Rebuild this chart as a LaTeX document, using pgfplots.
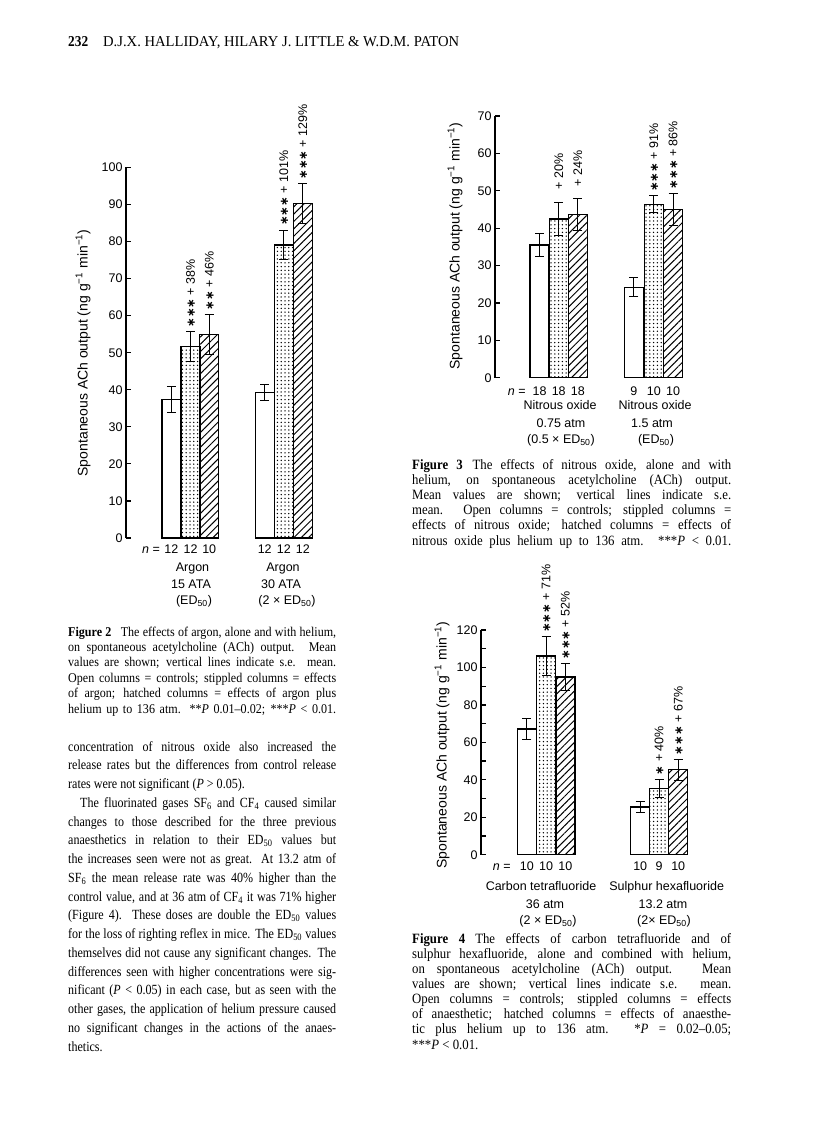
\documentclass[border=0pt]{standalone}
\usepackage{fontspec}
\usepackage{graphicx}
\setmainfont{Liberation Serif}
\newfontfamily\hv{Liberation Sans}
\newfontfamily\dv{DejaVu Sans}
\newfontfamily\bodyfont{Liberation Serif}[FakeStretch=0.86]
\newfontfamily\capfont{Liberation Serif}[FakeStretch=0.9]
\usepackage{pgfplots}
\pgfplotsset{compat=1.18}
\usetikzlibrary{patterns.meta}

% one justified line / one ragged line
\newcommand\jl[1]{\makebox[\linewidth][s]{#1}\par}
\newcommand\lft[1]{\makebox[\linewidth][l]{#1}\par}
\newcommand\st{{\dv\bfseries\fontsize{11.5}{11.5}\selectfont ∗}}
\newcommand\lab{\hv\fontsize{12.5}{14}\selectfont}

\pgfplotsset{
  fig/.style={clip=false, x=1pt, ymin=0, anchor=south west,
    axis y line=left, axis x line=none,
    axis line style={-, line width=1.3pt},
    tick align=inside, major tick length=5pt, minor tick length=5pt,
    ytick style={line width=1.2pt, black},
    yticklabel style={font=\hv\fontsize{12.5}{12}\selectfont},
    /pgf/number format/assume math mode=true},
  mybar/.style={ybar, bar width=19, bar shift=0pt, draw=black, line width=1.4pt,
    error bars/y dir=both, error bars/y explicit,
    error bars/error mark=|,
    error bars/error bar style={line width=1pt, black},
    error bars/error mark options={line width=1pt, mark size=4.5pt, black}},
  bopen/.style={mybar, fill=white},
  bdot/.style={mybar, pattern={Dots[distance=3.8pt, radius=0.75pt]}},
  bhat/.style={mybar, pattern={Lines[angle=45, distance=5.2pt, line width=1pt]}},
}
\tikzset{pct/.style={rotate=90, anchor=west, inner xsep=4pt, inner ysep=0pt, font=\lab},
  ylab/.style={rotate=90, font=\hv\fontsize{14}{14}\selectfont}}

\begin{document}
\begin{tikzpicture}
\fill[white] (0,0) rectangle (816pt,-1133pt);
\useasboundingbox (0,0) rectangle (816pt,-1133pt);

% ---------------- axes (page y measured downward, so negative) ----------------
\begin{axis}[fig, at={(126pt,-538pt)}, y=3.706pt,
  xmin=126, xmax=330, ymax=100, ytick={0,10,...,100}]
\addplot[bopen] coordinates {(171.3,37.4) +- (0,3.5)};
\addplot[bdot]  coordinates {(190.5,51.6) +- (0,4.1)};
\addplot[bhat]  coordinates {(209.2,54.9) +- (0,5.4)};
\addplot[bopen] coordinates {(264.7,39.2) +- (0,2.1)};
\addplot[bdot]  coordinates {(283.8,79.1) +- (0,4.0)};
\addplot[bhat]  coordinates {(302.8,90.2) +- (0,5.4)};
\node[pct] at (axis cs:190.5,55.7) {\st\st\st\ + 38\%};
\node[pct] at (axis cs:209.2,60.3) {\st\st\ + 46\%};
\node[pct] at (axis cs:283.8,83.1) {\st\st\st\ + 101\%};
\node[pct] at (axis cs:302.8,95.6) {\st\st\st\ + 129\%};
\end{axis}

\begin{axis}[fig, at={(495pt,-377.7pt)}, y=3.739pt,
  xmin=495, xmax=700, ymax=70, ytick={0,10,...,70}]
\addplot[bopen] coordinates {(539.5,35.5) +- (0,3.1)};
\addplot[bdot]  coordinates {(558.7,42.4) +- (0,4.5)};
\addplot[bhat]  coordinates {(577.8,43.6) +- (0,4.3)};
\addplot[bopen] coordinates {(633.8,24.2) +- (0,2.5)};
\addplot[bdot]  coordinates {(653.8,46.4) +- (0,2.2)};
\addplot[bhat]  coordinates {(673.0,45.0) +- (0,4.3)};
\node[pct] at (axis cs:558.7,49.2) {+ 20\%};
\node[pct] at (axis cs:577.8,50.0) {+ 24\%};
\node[pct] at (axis cs:653.8,48.6) {\st\st\st\ + 91\%};
\node[pct] at (axis cs:673.0,49.3) {\st\st\st\ + 86\%};
\end{axis}

\begin{axis}[fig, at={(481pt,-854.7pt)}, y=1.8725pt,
  xmin=481, xmax=700, ymax=120, ytick={0,20,...,120}, minor ytick={10,30,...,110}]
\addplot[bopen] coordinates {(526.8,67.1) +- (0,5.4)};
\addplot[bdot]  coordinates {(546.0,106.1) +- (0,10.2)};
\addplot[bhat]  coordinates {(565.3,94.9) +- (0,7.1)};
\addplot[bopen] coordinates {(640.2,25.5) +- (0,2.8)};
\addplot[bdot]  coordinates {(659.0,35.5) +- (0,4.8)};
\addplot[bhat]  coordinates {(678.2,45.4) +- (0,5.6)};
\node[pct] at (axis cs:546.0,116.3) {\st\st\st\ + 71\%};
\node[pct] at (axis cs:565.3,102.0) {\st\st\st\ + 52\%};
\node[pct] at (axis cs:659.0,40.3) {\st\ + 40\%};
\node[pct] at (axis cs:678.2,51.0) {\st\st\st\ + 67\%};
\end{axis}

% ---------------- text, in page pixels ----------------
\begin{scope}[x=1pt, y=-1pt]
% running head
\node[anchor=base west, inner sep=0] at (68,46) {\resizebox{20pt}{10pt}{\bfseries 232}};
\node[anchor=base west, inner sep=0] at (103,46) {\resizebox{356pt}{10pt}{D.J.X. HALLIDAY, HILARY J. LITTLE \& W.D.M. PATON}};

\node[ylab] at (83,353) {Spontaneous ACh output (ng g\textsuperscript{−1} min\textsuperscript{−1})};
\node[ylab] at (455,246) {Spontaneous ACh output (ng g\textsuperscript{−1} min\textsuperscript{−1})};
\node[ylab] at (442,745) {Spontaneous ACh output (ng g\textsuperscript{−1} min\textsuperscript{−1})};

\begin{scope}[every node/.style={anchor=base, inner sep=0, font=\lab}]
% Figure 2
\node at (151,553.5) {\textit{n} =};
\node at (171.3,553.5) {12}; \node at (190.5,553.5) {12}; \node at (209.2,553.5) {10};
\node at (264.7,553.5) {12}; \node at (283.8,553.5) {12}; \node at (302.8,553.5) {12};
\node at (192.5,571.5) {Argon}; \node at (191,588) {15 ATA}; \node at (194,604.5) {(ED\textsubscript{50})};
\node at (283,571.5) {Argon}; \node at (281,588) {30 ATA}; \node at (287,604.5) {(2 × ED\textsubscript{50})};
% Figure 3
\node at (516.7,395) {\textit{n} =};
\node at (539.5,395) {18}; \node at (558.7,395) {18}; \node at (577.8,395) {18};
\node at (633.8,395) {9}; \node at (653.8,395) {10}; \node at (673,395) {10};
\node at (560,409.5) {Nitrous oxide}; \node at (561,427) {0.75 atm}; \node at (561,443.5) {(0.5 × ED\textsubscript{50})};
\node at (655,409.5) {Nitrous oxide}; \node at (652,427) {1.5 atm}; \node at (656,443.5) {(ED\textsubscript{50})};
% Figure 4
\node at (501.7,870.5) {\textit{n} =};
\node at (526.8,870.5) {10}; \node at (546,870.5) {10}; \node at (565.3,870.5) {10};
\node at (640.2,870.5) {10}; \node at (659,870.5) {9}; \node at (678.2,870.5) {10};
\node at (541,890.5) {Carbon tetrafluoride}; \node at (545,908) {36 atm}; \node at (548,924.5) {(2 × ED\textsubscript{50})};
\node at (666.7,890.5) {Sulphur hexafluoride}; \node at (663,908) {13.2 atm}; \node at (664,924.5) {(2× ED\textsubscript{50})};
\end{scope}

\node[anchor=base west, inner sep=0] at (68,636) {\parbox[t]{268pt}{\capfont\fontsize{13.4}{15.4}\selectfont\lineskiplimit=-20pt
\jl{\textbf{Figure 2}\hspace{0.7em}The effects of argon, alone and with helium,}
\jl{on spontaneous acetylcholine (ACh) output. Mean}
\jl{values are shown; vertical lines indicate s.e. mean.}
\jl{Open columns = controls; stippled columns = effects}
\jl{of argon; hatched columns = effects of argon plus}
\jl{helium up to 136 atm. **\textit{P} 0.01–0.02; ***\textit{P} < 0.01.}}};

\node[anchor=base west, inner sep=0] at (68,751) {\parbox[t]{268pt}{\bodyfont\fontsize{14}{18.75}\selectfont\lineskiplimit=-20pt
\jl{concentration of nitrous oxide also increased the}
\jl{release rates but the differences from control release}
\lft{rates were not significant (\textit{P} > 0.05).}
\jl{\hspace*{12pt}The fluorinated gases SF\textsubscript{6} and CF\textsubscript{4} caused similar}
\jl{changes to those described for the three previous}
\jl{anaesthetics in relation to their ED\textsubscript{50} values but}
\jl{the increases seen were not as great. At 13.2 atm of}
\jl{SF\textsubscript{6} the mean release rate was 40\% higher than the}
\jl{control value, and at 36 atm of CF\textsubscript{4} it was 71\% higher}
\jl{(Figure 4). These doses are double the ED\textsubscript{50} values}
\jl{for the loss of righting reflex in mice. The ED\textsubscript{50} values}
\jl{themselves did not cause any significant changes. The}
\jl{differences seen with higher concentrations were sig-}
\jl{nificant (\textit{P} < 0.05) in each case, but as seen with the}
\jl{other gases, the application of helium pressure caused}
\jl{no significant changes in the actions of the anaes-}
\lft{thetics.}}};

\node[anchor=base west, inner sep=0] at (412,469.5) {\parbox[t]{319pt}{\capfont\fontsize{14.2}{15.1}\selectfont\lineskiplimit=-20pt
\jl{\textbf{Figure 3}\hspace{0.7em}The effects of nitrous oxide, alone and with}
\jl{helium, on spontaneous acetylcholine (ACh) output.}
\jl{Mean values are shown; vertical lines indicate s.e.}
\jl{mean. Open columns = controls; stippled columns =}
\jl{effects of nitrous oxide; hatched columns = effects of}
\jl{nitrous oxide plus helium up to 136 atm. ***\textit{P} < 0.01.}}};

\node[anchor=base west, inner sep=0] at (412,943) {\parbox[t]{319pt}{\capfont\fontsize{14.2}{15.15}\selectfont\lineskiplimit=-20pt
\jl{\textbf{Figure 4}\hspace{0.7em}The effects of carbon tetrafluoride and of}
\jl{sulphur hexafluoride, alone and combined with helium,}
\jl{on spontaneous acetylcholine (ACh) output. Mean}
\jl{values are shown; vertical lines indicate s.e. mean.}
\jl{Open columns = controls; stippled columns = effects}
\jl{of anaesthetic; hatched columns = effects of anaesthe-}
\jl{tic plus helium up to 136 atm. *\textit{P} = 0.02–0.05;}
\lft{***\textit{P} < 0.01.}}};
\end{scope}
\end{tikzpicture}
\end{document}
